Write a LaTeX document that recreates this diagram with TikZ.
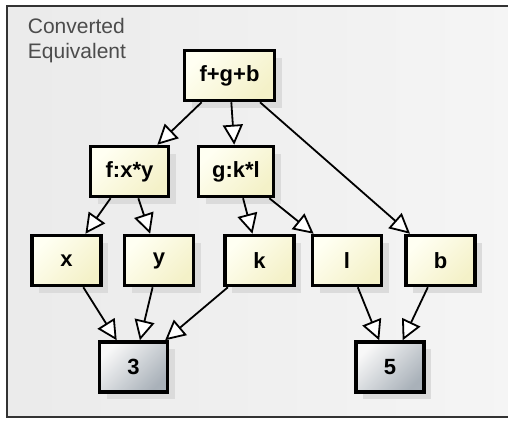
\documentclass[tikz,border=0pt]{standalone}
\usepackage{fontspec}
\setmainfont{Liberation Sans}
\usetikzlibrary{arrows.meta,shadows}

\definecolor{termlight}{HTML}{FFFFF2}
\definecolor{termdark}{HTML}{F4F1C8}
\definecolor{constlight}{HTML}{F8F8F8}
\definecolor{constdark}{HTML}{A9B1B9}

\begin{document}
\begin{tikzpicture}[x=1pt,y=-1pt,line width=1.8pt,
        >={Triangle[length=20pt,width=20pt,fill=white]}]
        \tikzstyle{box}=[rectangle,draw=black,line width=3.5pt,minimum height=50pt,
            font=\bfseries\fontsize{22}{26}\selectfont,
            drop shadow={shadow xshift=7pt,shadow yshift=-7pt,fill=black!14,opacity=1}]
        \tikzstyle{term}=[box, top color=termlight, bottom color=termdark, shading angle=45]
        \tikzstyle{const}=[box, top color=constlight, bottom color=constdark, shading angle=45]
        \tikzstyle{leaf}=[term, minimum width=69pt]

        \useasboundingbox (0,0) rectangle (508,421);

        % Draw the background frame
        \fill[left color=black!8, right color=black!4] (7,6) rectangle (508,417);
        \draw[line width=1.2pt, black!80] (508,6) -- (7,6) -- (7,417) -- (508,417);
        \node[anchor=north west, align=left, text=black!70, inner sep=0pt,
            font=\fontsize{21}{25}\selectfont] (title) at (27,17) {Converted\\Equivalent};

        % Draw the sum and the two products
        \node[term, minimum width=90pt] (sum) at (229.5,75.5) {f+g+b};
        \node[term, minimum width=78pt] (f) at (129.5,171.5) {f:x*y};
        \node[term, minimum width=75pt] (g) at (236,171.5) {g:k*l};

        % Draw the leaf nodes
        \foreach \name / \x in {x/66.5, y/159, k/259.5, l/347, b/440.5}
            \node[leaf] (\name) at (\x,260.5) {\name};

        % Draw the constants
        \node[const, minimum width=68pt] (three) at (133.5,367) {3};
        \node[const, minimum width=68pt] (five) at (390,367) {5};

        % Connect every node with the nodes it depends on
        \foreach \source / \dest in {sum/f, sum/g, sum/b, f/x, f/y, g/k, g/l,
                x/three, y/three, k/three, l/five, b/five}
            \draw[->] (\source) -- (\dest);
\end{tikzpicture}
\end{document}
